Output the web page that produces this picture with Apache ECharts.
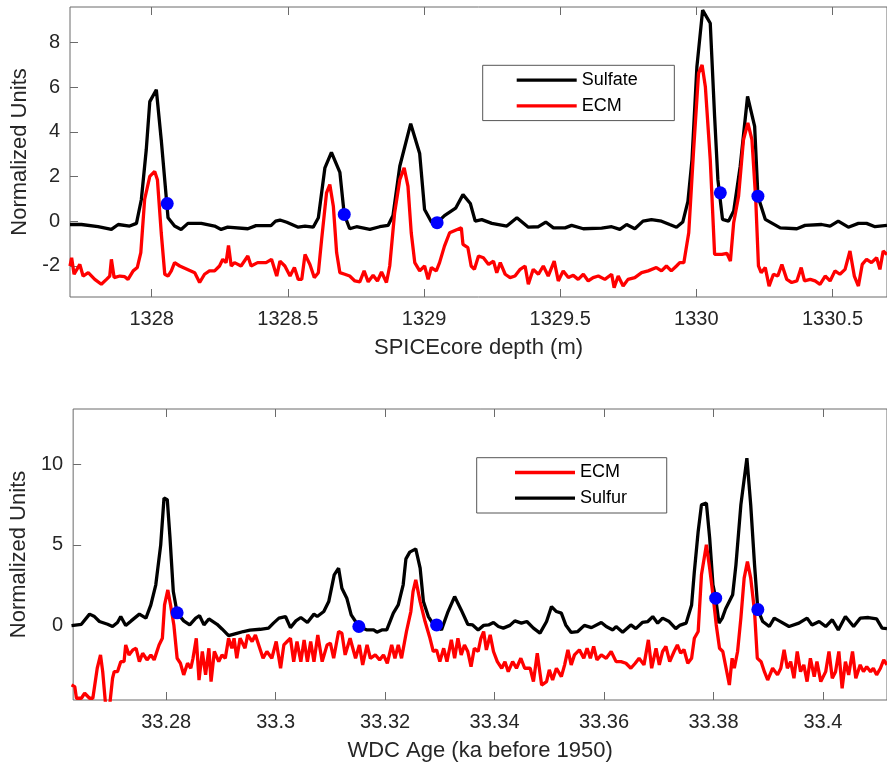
<!DOCTYPE html>
<html><head><meta charset="utf-8">
<script src="https://cdn.jsdelivr.net/npm/echarts@6/dist/echarts.min.js"></script>
<style>html,body{margin:0;padding:0;background:#fff}#c{width:887px;height:765px}</style>
</head><body><div id="c"></div>
<script>
// ---------- Top panel: SPICEcore depth (m) ----------
const topSulfate = [[1327.700,-0.15],[1327.742,-0.15],[1327.803,-0.25],[1327.852,-0.37],[1327.877,-0.15],[1327.919,-0.22],[1327.944,-0.10],[1327.962,0.97],[1327.980,3.20],[1327.993,5.36],[1328.017,5.89],[1328.035,3.65],[1328.060,0.15],[1328.084,-0.22],[1328.108,-0.37],[1328.133,-0.10],[1328.182,-0.10],[1328.231,-0.22],[1328.255,-0.37],[1328.279,-0.27],[1328.353,-0.34],[1328.383,-0.20],[1328.438,-0.20],[1328.455,0.00],[1328.471,0.05],[1328.496,-0.05],[1328.538,-0.27],[1328.563,-0.22],[1328.593,-0.27],[1328.612,0.15],[1328.636,2.39],[1328.660,3.08],[1328.691,2.19],[1328.707,0.30],[1328.727,-0.34],[1328.752,-0.25],[1328.801,-0.37],[1328.837,-0.25],[1328.868,-0.19],[1328.886,0.25],[1328.911,2.46],[1328.951,4.37],[1328.984,3.03],[1329.002,0.52],[1329.027,-0.04],[1329.048,-0.07],[1329.075,0.25],[1329.116,0.58],[1329.143,1.19],[1329.170,0.79],[1329.188,0.00],[1329.212,0.07],[1329.249,-0.10],[1329.304,-0.22],[1329.341,0.15],[1329.383,-0.27],[1329.420,-0.25],[1329.447,-0.04],[1329.475,-0.30],[1329.518,-0.30],[1329.542,-0.19],[1329.585,-0.34],[1329.652,-0.31],[1329.689,-0.25],[1329.719,-0.37],[1329.744,-0.15],[1329.774,-0.34],[1329.804,0.00],[1329.835,0.07],[1329.872,0.00],[1329.902,-0.15],[1329.927,-0.27],[1329.950,-0.04],[1329.969,0.89],[1329.984,2.76],[1330.002,6.93],[1330.023,9.46],[1330.051,8.87],[1330.067,4.69],[1330.079,1.86],[1330.096,0.08],[1330.118,0.00],[1330.137,0.45],[1330.161,2.46],[1330.188,5.59],[1330.214,4.25],[1330.226,1.12],[1330.253,0.08],[1330.308,-0.30],[1330.369,-0.34],[1330.399,-0.19],[1330.460,-0.15],[1330.491,-0.22],[1330.521,0.00],[1330.558,-0.27],[1330.595,-0.10],[1330.625,-0.10],[1330.656,-0.25],[1330.700,-0.19]];

const topECM = [[1327.700,-2.01],[1327.706,-1.64],[1327.715,-2.38],[1327.736,-1.94],[1327.748,-2.46],[1327.767,-2.31],[1327.791,-2.61],[1327.815,-2.83],[1327.834,-2.61],[1327.846,-2.46],[1327.852,-1.71],[1327.862,-2.53],[1327.883,-2.46],[1327.901,-2.49],[1327.913,-2.61],[1327.932,-2.23],[1327.947,-2.08],[1327.960,-1.41],[1327.974,0.97],[1327.993,2.01],[1328.011,2.23],[1328.021,1.86],[1328.035,-0.52],[1328.048,-2.38],[1328.060,-2.46],[1328.072,-2.23],[1328.084,-1.86],[1328.103,-2.01],[1328.158,-2.31],[1328.176,-2.75],[1328.194,-2.38],[1328.212,-2.23],[1328.231,-2.23],[1328.249,-2.01],[1328.261,-1.71],[1328.273,-1.86],[1328.282,-1.09],[1328.292,-2.01],[1328.304,-1.86],[1328.328,-2.01],[1328.353,-1.56],[1328.365,-2.01],[1328.389,-1.86],[1328.420,-1.86],[1328.440,-1.71],[1328.459,-2.46],[1328.471,-1.79],[1328.489,-2.01],[1328.508,-2.46],[1328.524,-2.08],[1328.538,-2.61],[1328.551,-2.61],[1328.563,-1.49],[1328.581,-1.94],[1328.597,-2.53],[1328.612,-2.31],[1328.624,-0.82],[1328.642,1.27],[1328.654,1.64],[1328.667,0.67],[1328.679,-1.41],[1328.691,-2.31],[1328.709,-2.38],[1328.727,-2.46],[1328.746,-2.68],[1328.764,-2.72],[1328.780,-2.23],[1328.795,-2.72],[1328.813,-2.43],[1328.829,-2.68],[1328.844,-2.28],[1328.862,-2.75],[1328.874,-2.01],[1328.892,0.37],[1328.911,1.86],[1328.927,2.39],[1328.941,1.56],[1328.953,-0.52],[1328.966,-1.86],[1328.984,-2.23],[1329.002,-2.01],[1329.015,-2.61],[1329.027,-2.08],[1329.045,-2.23],[1329.057,-1.86],[1329.075,-1.12],[1329.094,-0.52],[1329.137,-0.30],[1329.143,-1.04],[1329.161,-1.19],[1329.173,-2.01],[1329.185,-2.16],[1329.200,-1.56],[1329.218,-1.64],[1329.237,-1.94],[1329.255,-1.79],[1329.267,-2.31],[1329.280,-1.86],[1329.298,-2.38],[1329.316,-2.53],[1329.334,-2.46],[1329.353,-2.16],[1329.371,-2.01],[1329.383,-2.83],[1329.401,-2.16],[1329.420,-2.38],[1329.438,-2.01],[1329.456,-2.46],[1329.478,-1.79],[1329.493,-2.68],[1329.511,-2.23],[1329.530,-2.53],[1329.548,-2.43],[1329.566,-2.61],[1329.585,-2.38],[1329.603,-2.68],[1329.621,-2.53],[1329.640,-2.46],[1329.664,-2.61],[1329.689,-2.38],[1329.698,-2.98],[1329.713,-2.46],[1329.731,-2.91],[1329.749,-2.61],[1329.774,-2.53],[1329.799,-2.31],[1329.823,-2.23],[1329.853,-2.08],[1329.872,-2.23],[1329.890,-2.01],[1329.908,-2.23],[1329.927,-2.01],[1329.939,-1.86],[1329.954,-1.86],[1329.972,-0.52],[1329.990,3.20],[1330.008,6.63],[1330.021,7.00],[1330.033,6.03],[1330.051,2.76],[1330.067,-1.49],[1330.094,-1.49],[1330.112,-1.44],[1330.125,-1.79],[1330.137,-0.07],[1330.155,1.12],[1330.173,3.65],[1330.189,4.40],[1330.204,3.65],[1330.218,0.97],[1330.228,-2.01],[1330.238,-2.31],[1330.253,-2.08],[1330.267,-2.91],[1330.283,-2.38],[1330.299,-2.46],[1330.314,-1.94],[1330.332,-2.61],[1330.350,-2.75],[1330.369,-2.68],[1330.385,-2.08],[1330.397,-2.68],[1330.418,-2.61],[1330.436,-2.68],[1330.454,-2.83],[1330.473,-2.46],[1330.491,-2.68],[1330.509,-2.23],[1330.527,-2.38],[1330.546,-2.16],[1330.564,-1.34],[1330.580,-2.46],[1330.595,-2.91],[1330.609,-1.94],[1330.625,-1.71],[1330.643,-1.86],[1330.662,-1.64],[1330.674,-2.16],[1330.686,-1.34],[1330.700,-1.49]];

const topTiePoints = [[1328.057,0.79],[1328.707,0.30],[1329.048,-0.07],[1330.088,1.27],[1330.226,1.12]];

const topXTicks = [1328, 1328.5, 1329, 1329.5, 1330, 1330.5];
const topYTicks = [-2, 0, 2, 4, 6, 8];

// ---------- Bottom panel: WDC Age (ka before 1950) ----------
const botSulfur = [[33.2627,-0.01],[33.2645,0.07],[33.2660,0.70],[33.2669,0.55],[33.2678,0.24],[33.2693,0.07],[33.2702,-0.07],[33.2711,0.18],[33.2717,0.55],[33.2726,-0.01],[33.2736,0.28],[33.2751,0.70],[33.2763,0.45],[33.2772,1.27],[33.2781,2.52],[33.2790,5.00],[33.2796,7.90],[33.2802,7.80],[33.2807,5.42],[33.2813,2.10],[33.2820,0.78],[33.2832,0.28],[33.2843,0.03],[33.2854,0.45],[33.2861,0.60],[33.2869,0.03],[33.2878,0.40],[33.2893,0.07],[33.2902,-0.22],[33.2914,-0.63],[33.2929,-0.49],[33.2941,-0.38],[33.2953,-0.30],[33.2972,-0.24],[33.2987,-0.17],[33.2996,0.14],[33.3006,0.45],[33.3018,0.55],[33.3027,-0.14],[33.3037,0.28],[33.3046,0.49],[33.3058,0.18],[33.3070,0.70],[33.3076,0.55],[33.3088,0.86],[33.3097,1.48],[33.3107,3.14],[33.3115,3.55],[33.3121,2.31],[33.3130,1.69],[33.3138,0.65],[33.3152,-0.07],[33.3167,-0.28],[33.3179,-0.28],[33.3185,-0.42],[33.3194,-0.28],[33.3203,-0.28],[33.3215,0.76],[33.3224,1.27],[33.3233,2.52],[33.3238,4.13],[33.3245,4.55],[33.3256,4.75],[33.3264,3.55],[33.3270,1.48],[33.3279,0.55],[33.3286,0.18],[33.3294,0.03],[33.3303,-0.28],[33.3315,0.86],[33.3327,1.79],[33.3339,0.96],[33.3351,0.07],[33.3360,0.03],[33.3370,-0.28],[33.3380,0.00],[33.3389,0.03],[33.3398,0.18],[33.3407,-0.07],[33.3416,-0.17],[33.3428,0.00],[33.3437,0.28],[33.3449,0.14],[33.3459,0.24],[33.3471,-0.17],[33.3483,-0.48],[33.3495,0.24],[33.3504,1.17],[33.3513,0.86],[33.3522,0.76],[33.3530,0.03],[33.3540,-0.44],[33.3552,-0.38],[33.3564,0.00],[33.3577,-0.14],[33.3595,0.18],[33.3604,-0.07],[33.3616,-0.28],[33.3622,-0.07],[33.3634,-0.42],[33.3649,0.03],[33.3658,-0.20],[33.3670,0.18],[33.3680,0.24],[33.3689,0.55],[33.3698,0.14],[33.3707,0.45],[33.3719,0.24],[33.3731,-0.20],[33.3738,0.00],[33.3750,0.14],[33.3760,1.27],[33.3765,3.34],[33.3772,5.83],[33.3778,7.48],[33.3787,7.59],[33.3793,5.42],[33.3799,2.52],[33.3804,1.69],[33.3810,0.14],[33.3816,0.45],[33.3822,1.02],[33.3835,1.90],[33.3841,3.76],[33.3850,7.48],[33.3861,10.38],[33.3868,7.48],[33.3875,3.76],[33.3881,0.98],[33.3890,0.24],[33.3902,-0.07],[33.3911,0.45],[33.3920,0.28],[33.3938,-0.07],[33.3956,0.14],[33.3971,0.45],[33.3980,0.03],[33.3993,0.24],[33.4005,-0.07],[33.4017,0.35],[33.4028,-0.28],[33.4041,0.55],[33.4056,-0.07],[33.4068,0.45],[33.4083,0.49],[33.4098,0.40],[33.4108,-0.17],[33.4117,-0.20]];

const botECM = [[33.2627,-3.70],[33.2633,-3.80],[33.2636,-4.52],[33.2645,-4.52],[33.2651,-4.21],[33.2660,-4.52],[33.2666,-4.52],[33.2674,-2.66],[33.2680,-1.83],[33.2684,-2.87],[33.2690,-5.20],[33.2696,-5.20],[33.2702,-3.28],[33.2705,-2.87],[33.2711,-2.87],[33.2717,-2.25],[33.2723,-2.25],[33.2726,-1.21],[33.2732,-1.83],[33.2739,-1.52],[33.2745,-1.42],[33.2751,-2.25],[33.2757,-1.73],[33.2765,-2.14],[33.2772,-1.83],[33.2778,-2.14],[33.2787,-1.21],[33.2793,-0.80],[33.2797,1.27],[33.2803,2.20],[33.2808,1.27],[33.2814,0.03],[33.2820,-2.04],[33.2826,-2.35],[33.2832,-3.07],[33.2839,-2.35],[33.2845,-2.66],[33.2849,-2.04],[33.2855,-0.80],[33.2860,-3.39],[33.2866,-1.62],[33.2872,-3.07],[33.2878,-1.42],[33.2882,-3.49],[33.2888,-1.62],[33.2896,-2.25],[33.2902,-1.83],[33.2908,-2.04],[33.2914,-0.80],[33.2920,-1.42],[33.2924,-0.80],[33.2929,-2.04],[33.2935,-0.80],[33.2944,-1.42],[33.2949,-0.59],[33.2957,-1.00],[33.2963,-0.59],[33.2969,-1.21],[33.2977,-2.04],[33.2984,-1.62],[33.2993,-2.04],[33.3001,-1.00],[33.3009,-2.66],[33.3015,-1.21],[33.3021,-1.00],[33.3027,-0.80],[33.3033,-2.25],[33.3039,-1.00],[33.3046,-2.25],[33.3052,-0.90],[33.3058,-2.25],[33.3064,-1.00],[33.3070,-2.25],[33.3077,-0.59],[33.3085,-2.25],[33.3094,-1.21],[33.3100,-1.10],[33.3106,-2.04],[33.3115,-0.38],[33.3121,-0.49],[33.3127,-1.83],[33.3136,-0.80],[33.3146,-2.04],[33.3153,-1.21],[33.3159,-2.45],[33.3167,-1.21],[33.3173,-2.04],[33.3182,-1.83],[33.3190,-2.14],[33.3197,-1.83],[33.3204,-2.35],[33.3212,-1.21],[33.3218,-2.04],[33.3224,-1.21],[33.3230,-2.04],[33.3239,-0.38],[33.3247,0.86],[33.3251,2.10],[33.3256,2.83],[33.3264,1.48],[33.3273,0.24],[33.3282,-0.80],[33.3288,-1.62],[33.3294,-1.52],[33.3300,-2.25],[33.3307,-1.42],[33.3313,-2.25],[33.3321,-0.90],[33.3327,-2.04],[33.3333,-0.80],[33.3339,-1.83],[33.3345,-1.21],[33.3351,-1.62],[33.3357,-2.56],[33.3363,-1.42],[33.3370,-1.62],[33.3375,-0.80],[33.3380,-0.38],[33.3385,-1.52],[33.3392,-0.59],[33.3398,-1.62],[33.3405,-2.25],[33.3413,-2.66],[33.3419,-2.25],[33.3425,-2.87],[33.3433,-2.25],[33.3440,-2.66],[33.3448,-2.04],[33.3455,-2.66],[33.3465,-2.66],[33.3471,-3.49],[33.3478,-1.73],[33.3486,-3.70],[33.3495,-3.49],[33.3500,-2.76],[33.3506,-3.39],[33.3513,-2.66],[33.3522,-3.18],[33.3528,-2.45],[33.3534,-1.52],[33.3540,-2.45],[33.3546,-1.83],[33.3555,-1.52],[33.3563,-2.04],[33.3569,-1.42],[33.3575,-2.04],[33.3581,-1.31],[33.3587,-2.14],[33.3595,-1.83],[33.3604,-2.04],[33.3613,-1.62],[33.3622,-2.25],[33.3631,-2.25],[33.3640,-2.35],[33.3649,-2.66],[33.3657,-2.35],[33.3664,-2.04],[33.3673,-2.45],[33.3681,-0.90],[33.3687,-2.66],[33.3695,-1.42],[33.3701,-2.45],[33.3707,-1.62],[33.3713,-1.31],[33.3720,-2.25],[33.3728,-1.62],[33.3734,-1.21],[33.3740,-1.73],[33.3746,-1.50],[33.3753,-2.35],[33.3760,-2.04],[33.3765,-0.80],[33.3772,-0.38],[33.3778,3.14],[33.3787,5.00],[33.3793,3.55],[33.3799,1.90],[33.3805,0.03],[33.3811,-1.42],[33.3817,-1.62],[33.3823,-2.66],[33.3829,-3.70],[33.3834,-2.04],[33.3838,-2.66],[33.3844,-1.62],[33.3850,0.45],[33.3856,2.93],[33.3862,3.96],[33.3868,2.93],[33.3875,0.86],[33.3880,-2.04],[33.3887,-2.25],[33.3893,-2.87],[33.3899,-3.39],[33.3908,-2.66],[33.3917,-3.07],[33.3923,-2.66],[33.3929,-1.52],[33.3935,-2.66],[33.3941,-2.25],[33.3947,-3.28],[33.3953,-1.62],[33.3959,-2.87],[33.3965,-2.45],[33.3971,-3.49],[33.3977,-2.04],[33.3984,-3.18],[33.3989,-2.25],[33.3996,-3.49],[33.4005,-2.87],[33.4011,-1.62],[33.4017,-3.28],[33.4023,-2.87],[33.4029,-1.62],[33.4035,-3.90],[33.4041,-2.25],[33.4047,-3.07],[33.4054,-1.62],[33.4060,-3.28],[33.4068,-2.45],[33.4074,-2.87],[33.4080,-2.56],[33.4087,-2.87],[33.4092,-2.66],[33.4098,-3.07],[33.4105,-2.66],[33.4111,-2.14],[33.4117,-2.45]];

const botTiePoints = [[33.2820,0.78],[33.3152,-0.07],[33.3294,0.03],[33.3804,1.69],[33.3881,0.98]];

const botXTicks = [33.28, 33.30, 33.32, 33.34, 33.36, 33.38, 33.40];
const botYTicks = [0, 5, 10];

// ---------- chart ----------
const FONT = "'Liberation Sans', Arial, Helvetica, sans-serif";
const TXT = '#262626';
const BOX = '#6b6b6b';
const fmt = v => String(+v.toFixed(6));

function xAxisDef(gi, min, max, ticks, name, top) {
  return {
    type: 'value', gridIndex: gi, min: min, max: max, position: top ? 'top' : 'bottom',
    splitLine: { show: false },
    axisLine: { show: false, onZero: false },
    axisTick: { show: true, inside: true, length: 8, lineStyle: { color: BOX, width: 1 }, customValues: ticks },
    axisLabel: top ? { show: false } : { show: true, customValues: ticks, formatter: fmt, margin: 12, fontSize: 20, color: TXT, fontFamily: FONT },
    name: top ? '' : name, nameLocation: 'middle', nameGap: 40,
    nameTextStyle: { fontSize: 22, color: TXT, fontFamily: FONT }
  };
}
function yAxisDef(gi, min, max, ticks) {
  return {
    type: 'value', gridIndex: gi, min: min, max: max,
    splitLine: { show: false },
    axisLine: { show: false, onZero: false },
    axisTick: { show: true, inside: true, length: 8, lineStyle: { color: BOX, width: 1 }, customValues: ticks },
    axisLabel: { show: true, customValues: ticks, formatter: fmt, margin: 10, fontSize: 20, color: TXT, fontFamily: FONT },
    name: 'Normalized Units', nameLocation: 'middle', nameGap: 34,
    nameTextStyle: { fontSize: 22, color: TXT, fontFamily: FONT }
  };
}
function lineSeries(name, data, color, xi, yi) {
  return { type: 'line', name: name, data: data, xAxisIndex: xi, yAxisIndex: yi,
    symbol: 'none', showSymbol: false, clip: true,
    lineStyle: { color: color, width: 3.3 }, itemStyle: { color: color } };
}
function dotSeries(data, xi, yi) {
  return { type: 'scatter', name: 'tie', data: data, xAxisIndex: xi, yAxisIndex: yi,
    symbol: 'circle', symbolSize: 13, itemStyle: { color: '#0000ff', opacity: 1 }, z: 5 };
}
function legendDef(names, left, top, padL, padR) {
  return {
    data: names, orient: 'vertical', left: left, top: top,
    icon: 'rect', itemWidth: 60, itemHeight: 3.3, itemGap: 7.7,
    padding: [5.8, padR, 5.8, padL],
    backgroundColor: '#ffffff', borderColor: '#555555', borderWidth: 1, borderRadius: 0,
    selectedMode: false,
    textStyle: { fontSize: 18, lineHeight: 18, color: '#000', fontFamily: FONT }
  };
}

const chart = echarts.init(document.getElementById('c'), null, { renderer: 'canvas' });
chart.setOption({
  animation: false,
  backgroundColor: '#ffffff',
  grid: [
    { left: 70, top: 7, width: 819, height: 290, show: true, borderColor: BOX, borderWidth: 1, backgroundColor: 'transparent' },
    { left: 70, top: 409, width: 819, height: 291, show: true, borderColor: BOX, borderWidth: 1, backgroundColor: 'transparent' }
  ],
  xAxis: [
    xAxisDef(0, 1327.7, 1330.7, topXTicks, 'SPICEcore depth (m)', false),
    xAxisDef(0, 1327.7, 1330.7, topXTicks, '', true),
    xAxisDef(1, 33.263, 33.4117, botXTicks, 'WDC Age (ka before 1950)', false),
    xAxisDef(1, 33.263, 33.4117, botXTicks, '', true)
  ],
  yAxis: [
    yAxisDef(0, -3.4, 9.6, topYTicks),
    yAxisDef(1, -4.63, 13.43, botYTicks)
  ],
  legend: [
    legendDef(['Sulfate', 'ECM'], 482.7, 65.3, 34, 36.6),
    legendDef(['ECM', 'Sulfur'], 476.7, 457.7, 38.3, 39.7)
  ],
  series: [
    lineSeries('Sulfate', topSulfate, '#000000', 0, 0),
    lineSeries('ECM', topECM, '#ff0000', 0, 0),
    dotSeries(topTiePoints, 0, 0),
    lineSeries('Sulfur', botSulfur, '#000000', 2, 1),
    lineSeries('ECM', botECM, '#ff0000', 2, 1),
    dotSeries(botTiePoints, 2, 1)
  ]
});
</script>
</body></html>
